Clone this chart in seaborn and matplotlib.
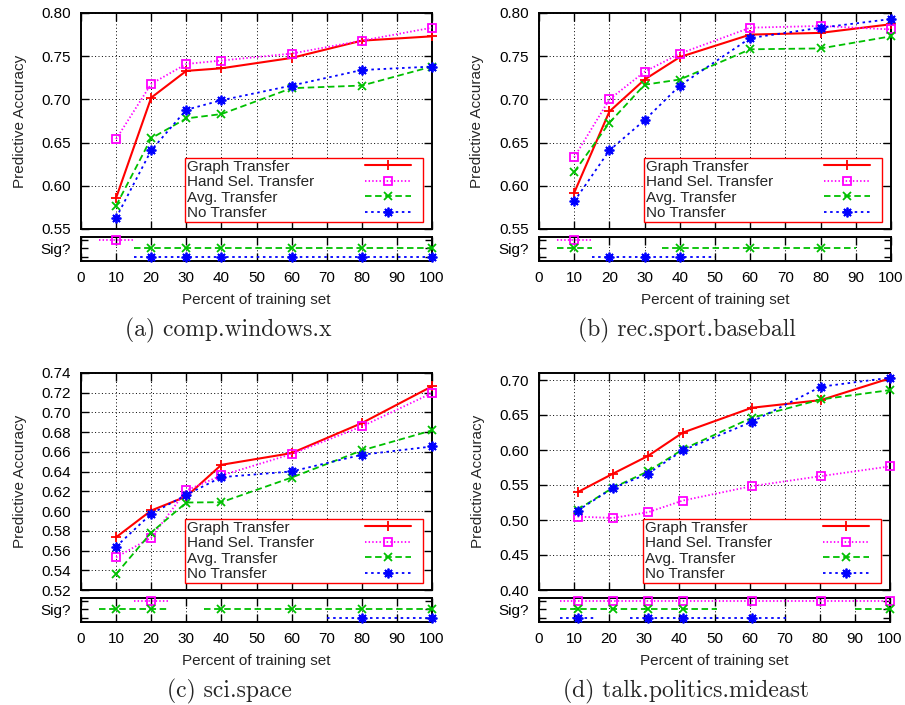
import numpy as np
import pandas as pd
import matplotlib
matplotlib.use("Agg")
import matplotlib.pyplot as plt
from matplotlib.ticker import FormatStrFormatter, MultipleLocator
from matplotlib.offsetbox import DrawingArea
import seaborn as sb

sb.set_theme(style="ticks")
plt.rcParams["font.family"] = ["Liberation Sans", "DejaVu Sans"]
plt.rcParams["axes.linewidth"] = 1.4

# DATA
#-----------------------------------
series_names = ["Graph Transfer", "Hand Sel. Transfer", "Avg. Transfer", "No Transfer"]

pct = [10, 20, 30, 40, 60, 80, 100]
pct_d = [11, 21, 31, 41, 60.6, 80.3, 100]

# (a) comp.windows.x
graph_a = [0.586, 0.702, 0.733, 0.736, 0.748, 0.768, 0.773]
hand_a = [0.654, 0.718, 0.741, 0.745, 0.753, 0.768, 0.783]
avg_a = [0.577, 0.655, 0.678, 0.683, 0.713, 0.716, 0.738]
none_a = [0.563, 0.641, 0.688, 0.699, 0.716, 0.734, 0.738]
sig_hand_a = [1, 0, 0, 0, 0, 0, 0]
sig_avg_a = [0, 1, 1, 1, 1, 1, 1]
sig_none_a = [0, 1, 1, 1, 1, 1, 1]

# (b) rec.sport.baseball
graph_b = [0.592, 0.686, 0.723, 0.749, 0.775, 0.777, 0.787]
hand_b = [0.633, 0.700, 0.732, 0.753, 0.783, 0.785, 0.781]
avg_b = [0.616, 0.673, 0.717, 0.723, 0.758, 0.759, 0.773]
none_b = [0.582, 0.641, 0.676, 0.716, 0.771, 0.783, 0.793]
sig_hand_b = [1, 0, 0, 0, 0, 0, 0]
sig_avg_b = [1, 0, 0, 1, 1, 1, 0]
sig_none_b = [0, 1, 1, 1, 0, 0, 0]

# (c) sci.space
graph_c = [0.5735, 0.6006, 0.6148, 0.6469, 0.6588, 0.6892, 0.7265]
hand_c = [0.5532, 0.5731, 0.6209, 0.6361, 0.6578, 0.6858, 0.7197]
avg_c = [0.5362, 0.5782, 0.6087, 0.6090, 0.6340, 0.6615, 0.6818]
none_c = [0.5640, 0.5972, 0.6165, 0.6344, 0.6402, 0.6571, 0.6655]
sig_hand_c = [0, 1, 0, 0, 0, 0, 0]
sig_avg_c = [1, 1, 0, 1, 1, 1, 1]
sig_none_c = [0, 0, 0, 0, 0, 1, 1]

# (d) talk.politics.mideast
graph_d = [0.5397, 0.5660, 0.5914, 0.6249, 0.6603, 0.6713, 0.7024]
hand_d = [0.5048, 0.5029, 0.5110, 0.5278, 0.5483, 0.5627, 0.5766]
avg_d = [0.5148, 0.5459, 0.5694, 0.6010, 0.6460, 0.6722, 0.6856]
none_d = [0.5134, 0.5455, 0.5660, 0.5995, 0.6402, 0.6904, 0.7033]
sig_hand_d = [1, 1, 1, 1, 1, 1, 1]
sig_avg_d = [1, 1, 1, 1, 0, 0, 1]
sig_none_d = [1, 0, 1, 1, 1, 0, 0]

captions = ["(a) comp.windows.x", "(b) rec.sport.baseball",
            "(c) sci.space", "(d) talk.politics.mideast"]

# STYLES
#-----------------------------------
styles = {
    "Graph Transfer": dict(color="#ff0000", ls="-", lw=1.5, marker="+", ms=7.5, level=4),
    "Hand Sel. Transfer": dict(color="#ff00ff", ls=(0, (0.8, 1.2)), lw=1.3, marker="s", ms=5.5, level=3),
    "Avg. Transfer": dict(color="#00c000", ls=(0, (3.6, 2.0)), lw=1.3, marker="x", ms=6, level=2),
    "No Transfer": dict(color="#0000ff", ls=(0, (1.4, 2.0)), lw=1.3, marker=(8, 2, 0), ms=7, level=1),
}

W, H = 905, 705


def px_rect(left, top, right, bottom):
    return [left / W, 1 - bottom / H, (right - left) / W, (bottom - top) / H]


# ONE PANEL
#-----------------------------------
def draw_panel(fig, box, x, values, sigs, ylim, ystep, caption, cap_xy):
    left, top, right, bottom, s_top, s_bottom = box
    ax = fig.add_axes(px_rect(left, top, right, bottom))
    sx = fig.add_axes(px_rect(left, s_top, right, s_bottom))

    handles = []
    for name, vals in zip(series_names, values):
        st = styles[name]
        sb.lineplot(x=x, y=vals, ax=ax, color=st["color"], linestyle=st["ls"], lw=st["lw"],
                    marker=st["marker"], markersize=st["ms"], markeredgecolor=st["color"],
                    markerfacecolor="none", markeredgewidth=1.3, estimator=None,
                    clip_on=False, zorder=3)
        handles.append(ax.lines[-1])

    # significance strip
    n = len(x)
    for name, flags in zip(series_names[1:], sigs):
        st = styles[name]
        i = 0
        while i < n:
            if not flags[i]:
                i += 1
                continue
            j = i
            while j + 1 < n and flags[j + 1]:
                j += 1
            lo = x[i] - 5 if i == 0 else (x[i - 1] + x[i]) / 2
            hi = x[j] + 5 if j == n - 1 else (x[j] + x[j + 1]) / 2
            sb.lineplot(x=[lo, hi], y=[st["level"]] * 2, ax=sx, color=st["color"],
                        linestyle=st["ls"], lw=st["lw"], estimator=None, zorder=3)
            i = j + 1
        pts = [xv for xv, f in zip(x, flags) if f]
        sx.plot(pts, [st["level"]] * len(pts), linestyle="none", marker=st["marker"],
                markersize=st["ms"], markeredgecolor=st["color"], markerfacecolor="none",
                markeredgewidth=1.3, clip_on=False, zorder=4)

    for a in (ax, sx):
        a.set_xlim(0, 100)
        a.xaxis.set_major_locator(MultipleLocator(10))
        a.tick_params(direction="in", top=True, right=True, length=5.5, width=1.0,
                      labelsize=11, colors="black", pad=7)
        a.grid(axis="x", color="black", linestyle=(0, (1, 2.5)), linewidth=0.7)
        for sp in a.spines.values():
            sp.set_visible(True)
            sp.set_color("black")
        a.set_ylabel("")
        a.set_xlabel("")

    ax.set_ylim(*ylim)
    ax.yaxis.set_major_locator(MultipleLocator(ystep))
    ax.yaxis.set_major_formatter(FormatStrFormatter("%.2f"))
    ax.grid(axis="y", color="black", linestyle=(0, (1, 2.5)), linewidth=0.7)
    ax.tick_params(labelbottom=False)
    ax.set_ylabel("Predictive Accuracy", fontsize=11)
    ax.yaxis.set_label_coords(-0.155, 0.5)

    sx.set_ylim(0.5, 3.35)
    sx.set_yticks([1, 2, 3])
    sx.set_yticklabels(["", "Sig?", ""])
    sx.tick_params(axis="y", length=5)
    sx.set_xlabel("Percent of training set", fontsize=11)
    sx.xaxis.set_label_coords(0.5, -1.33)

    leg = ax.legend(handles, series_names, loc="lower right",
                    bbox_to_anchor=(0.974, 0.032), borderaxespad=0, markerfirst=False,
                    frameon=True, fancybox=False, framealpha=1, edgecolor="#ff0000",
                    fontsize=11, handlelength=3.0, labelspacing=0.1, borderpad=0.12,
                    handletextpad=1.0)
    leg.get_frame().set_linewidth(1.0)
    for row in leg._legend_handle_box.get_children()[0].get_children():
        row.mode = "expand"
        row.width = 224
    leg._legend_handle_box.sep = 0
    leg._legend_handle_box.get_children().append(DrawingArea(7, 1))

    fig.text(cap_xy[0] / W, 1 - cap_xy[1] / H, caption, ha="center", va="center",
             fontsize=17, family="cmr10")
    return ax, sx


# MAIN PIPELINE
#-----------------------------------
def main():
    fig = plt.figure(figsize=(W / 100, H / 100), dpi=100)

    draw_panel(fig, (81, 13, 432, 229, 237, 261), pct,
               [graph_a, hand_a, avg_a, none_a], [sig_hand_a, sig_avg_a, sig_none_a],
               (0.55, 0.80), 0.05, captions[0], (228, 330))
    draw_panel(fig, (539, 13, 891, 229, 237, 261), pct,
               [graph_b, hand_b, avg_b, none_b], [sig_hand_b, sig_avg_b, sig_none_b],
               (0.55, 0.80), 0.05, captions[1], (687, 330))
    draw_panel(fig, (81, 373, 432, 590, 598, 622), pct,
               [graph_c, hand_c, avg_c, none_c], [sig_hand_c, sig_avg_c, sig_none_c],
               (0.52, 0.74), 0.02, captions[2], (229, 691))
    draw_panel(fig, (539, 373, 890, 590, 598, 622), pct_d,
               [graph_d, hand_d, avg_d, none_d], [sig_hand_d, sig_avg_d, sig_none_d],
               (0.40, 0.71), 0.05, captions[3], (686, 691))

    fig.savefig("out.png", dpi=100)


if __name__ == "__main__":
    main()
